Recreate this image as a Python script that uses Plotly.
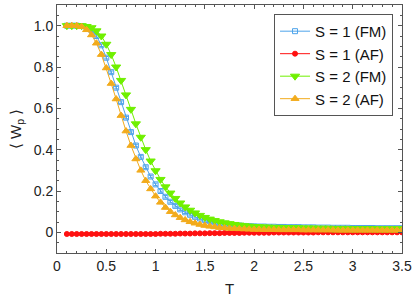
import plotly.graph_objects as go

T = [0.10, 0.15, 0.20, 0.25, 0.30, 0.35, 0.40, 0.45, 0.50, 0.55, 0.60, 0.65, 0.70,
     0.75, 0.80, 0.85, 0.90, 0.95, 1.00, 1.05, 1.10, 1.15, 1.20, 1.25, 1.30, 1.35,
     1.40, 1.45, 1.50, 1.55, 1.60, 1.65, 1.70, 1.75, 1.80, 1.85, 1.90, 1.95, 2.00,
     2.05, 2.10, 2.15, 2.20, 2.25, 2.30, 2.35, 2.40, 2.45, 2.50, 2.55, 2.60, 2.65,
     2.70, 2.75, 2.80, 2.85, 2.90, 2.95, 3.00, 3.05, 3.10, 3.15, 3.20, 3.25, 3.30,
     3.35, 3.40, 3.45, 3.50]

s1_fm = [1.0, 1.0, 1.0, 0.998, 0.992, 0.978, 0.95, 0.905, 0.845, 0.775, 0.70, 0.63, 0.555,
         0.485, 0.42, 0.365, 0.315, 0.27, 0.232, 0.20, 0.172, 0.148, 0.128, 0.111, 0.097, 0.085,
         0.075, 0.067, 0.06, 0.054, 0.049, 0.045, 0.041, 0.038, 0.035, 0.033, 0.031, 0.03, 0.029,
         0.028, 0.028, 0.027, 0.027, 0.026, 0.026, 0.025, 0.025, 0.025, 0.024, 0.024, 0.024, 0.023,
         0.023, 0.023, 0.022, 0.022, 0.022, 0.022, 0.021, 0.021, 0.021, 0.021, 0.021, 0.020, 0.020,
         0.020, 0.020, 0.020, 0.020]

s1_af = [-0.008, -0.008, -0.008, -0.008, -0.008, -0.008, -0.008, -0.008, -0.008, -0.008,
         -0.008, -0.008, -0.008, -0.008, -0.008, -0.008, -0.008, -0.008, -0.008, -0.007,
         -0.007, -0.007, -0.007, -0.006, -0.006, -0.006, -0.005, -0.005, -0.005, -0.004,
         -0.004, -0.004, -0.003, -0.003, -0.003, -0.003, -0.002, -0.002, -0.002, -0.002,
         -0.002, -0.002, -0.001, -0.001, -0.001, -0.001, -0.001, -0.001, -0.001, -0.001,
         -0.001, 0.000, 0.000, 0.000, 0.000, 0.000, 0.000, 0.000, 0.000, 0.000,
         0.000, 0.000, 0.000, 0.000, 0.000, 0.000, 0.000, 0.000, 0.000]

s2_fm = [1.0, 1.0, 1.0, 1.0, 0.996, 0.99, 0.975, 0.95, 0.91, 0.86, 0.80, 0.735, 0.665,
         0.595, 0.525, 0.46, 0.40, 0.345, 0.298, 0.256, 0.22, 0.19, 0.164, 0.142, 0.123, 0.107,
         0.094, 0.082, 0.072, 0.064, 0.057, 0.051, 0.046, 0.042, 0.038, 0.035, 0.032, 0.03, 0.028,
         0.027, 0.026, 0.025, 0.024, 0.024, 0.023, 0.023, 0.022, 0.022, 0.021, 0.021, 0.021, 0.020,
         0.020, 0.020, 0.019, 0.019, 0.019, 0.019, 0.018, 0.018, 0.018, 0.018, 0.018, 0.017, 0.017,
         0.017, 0.017, 0.017, 0.017]

s2_af = [1.0, 1.0, 1.0, 0.995, 0.98, 0.955, 0.915, 0.86, 0.795, 0.72, 0.645, 0.565, 0.49,
         0.42, 0.355, 0.30, 0.25, 0.21, 0.175, 0.145, 0.12, 0.10, 0.084, 0.071, 0.06, 0.051,
         0.044, 0.038, 0.033, 0.029, 0.026, 0.023, 0.021, 0.019, 0.018, 0.017, 0.016, 0.015, 0.014,
         0.014, 0.013, 0.013, 0.013, 0.012, 0.012, 0.012, 0.012, 0.012, 0.011, 0.011, 0.011, 0.011,
         0.011, 0.011, 0.011, 0.010, 0.010, 0.010, 0.010, 0.010, 0.010, 0.010, 0.010, 0.010, 0.010,
         0.010, 0.010, 0.010, 0.010]

err = [0.006] * len(T)

series = [
    ("S = 1 (FM)", s1_fm, "#4da3ea", "square-open", 5),
    ("S = 1 (AF)", s1_af, "#ff1010", "circle", 5),
    ("S = 2 (FM)", s2_fm, "#70f000", "triangle-down", 8),
    ("S = 2 (AF)", s2_af, "#f2ab1c", "triangle-up", 7),
]

fig = go.Figure()
for name, y, color, sym, size in series:
    fig.add_trace(go.Scatter(
        x=T, y=y, name=name, mode="lines+markers",
        line=dict(color=color, width=1),
        marker=dict(symbol=sym, size=size, color=color, line=dict(color=color, width=1)),
        error_y=dict(type="data", array=err, visible=True, color=color, thickness=1, width=2),
    ))

FONT = "Liberation Sans, Arial, Helvetica"
axis_common = dict(
    showline=True, linecolor="#555", linewidth=1, mirror="ticks",
    ticks="inside", ticklen=4, tickcolor="#555", showgrid=False, zeroline=False,
    tickfont=dict(family=FONT, size=14, color="#222"),
    automargin=False,
)

fig.update_xaxes(
    range=[0, 3.5], tickvals=[0, 0.5, 1, 1.5, 2, 2.5, 3, 3.5],
    ticktext=["0", "0.5", "1", "1.5", "2", "2.5", "3", "3.5"],
    minor=dict(dtick=0.1, ticks="inside", ticklen=2, tickcolor="#555"),
    title=dict(text="T", font=dict(family=FONT, size=15, color="#222"), standoff=10),
    **axis_common,
)
fig.update_yaxes(
    range=[-0.1, 1.1], tickvals=[0, 0.2, 0.4, 0.6, 0.8, 1.0],
    ticktext=["0", "0.2", "0.4", "0.6", "0.8", "1.0"],
    minor=dict(dtick=0.05, tick0=0, ticks="inside", ticklen=2, tickcolor="#555"),
    title=dict(text="⟨ W<sub>p</sub> ⟩", font=dict(family=FONT, size=15, color="#222"), standoff=8),
    **axis_common,
)

fig.update_layout(
    width=416, height=302,
    margin=dict(l=57, r=14, t=5, b=49),
    plot_bgcolor="white", paper_bgcolor="white",
    legend=dict(
        x=0.974, y=0.964, xanchor="right", yanchor="top",
        bgcolor="white", bordercolor="#555", borderwidth=1,
        font=dict(family=FONT, size=15, color="#111"),
        tracegroupgap=0,
    ),
    showlegend=True,
)

fig.write_html("out.html", config={"displayModeBar": False},
               post_script="document.body.style.margin='0';document.body.style.overflow='hidden';")
